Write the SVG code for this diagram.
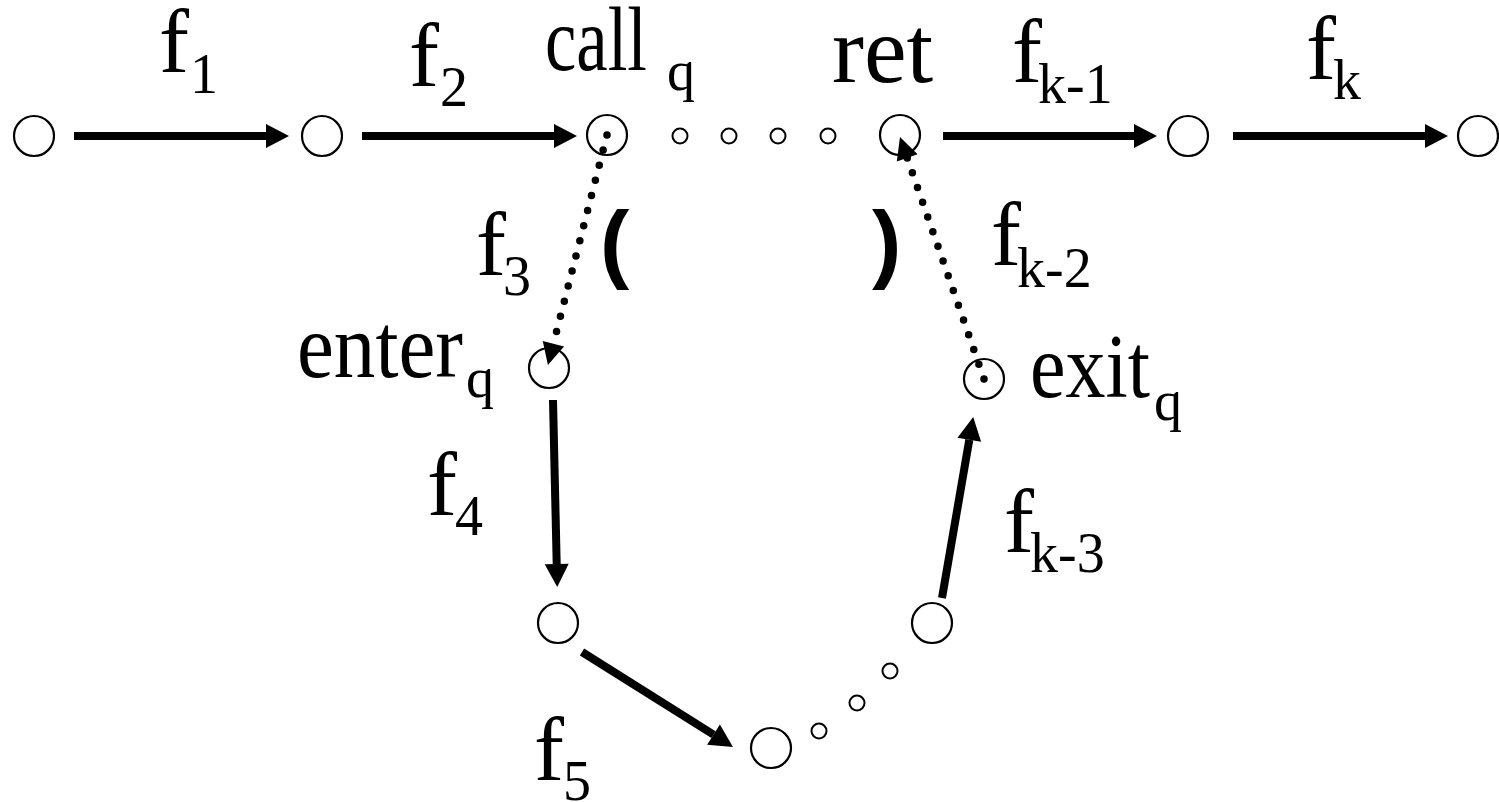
<svg xmlns="http://www.w3.org/2000/svg" width="1499" height="802" viewBox="0 0 1499 802">
<style>
.n{fill:#fff;stroke:#000;stroke-width:2.2}
.s{fill:#fff;stroke:#000;stroke-width:2}
.t{font-family:"Liberation Serif","Times New Roman",serif;font-size:90px;fill:#000}
.sub{font-size:56px}
.p{font-family:"Liberation Sans",Arial,sans-serif;font-weight:bold;font-size:88px;fill:#000}
.a{fill:none;stroke:#000;stroke-width:8;marker-end:url(#ah)}
.d{fill:none;stroke:#000;stroke-width:7.5;stroke-linecap:round;stroke-dasharray:0 15.6;marker-end:url(#dh)}
</style>
<defs>
<marker id="ah" markerUnits="userSpaceOnUse" viewBox="0 -13 24 26" refX="0" refY="0" markerWidth="24" markerHeight="26" orient="auto" overflow="visible">
<polygon points="0,-12 23,0 0,12" fill="#000"/>
</marker>
<marker id="dh" markerUnits="userSpaceOnUse" viewBox="0 -12 23 24" refX="0" refY="0" markerWidth="23" markerHeight="24" orient="auto" overflow="visible">
<polygon points="0,-11 22,0 0,11" fill="#000"/>
</marker>
</defs>

<g id="node-1"><circle class="n" cx="34" cy="136" r="20"/></g>
<g id="node-2"><circle class="n" cx="322" cy="136" r="20"/></g>
<g id="node-call"><circle class="n" cx="607" cy="135" r="20"/></g>
<g id="node-ret"><circle class="n" cx="900" cy="135" r="20"/></g>
<g id="node-k1"><circle class="n" cx="1188" cy="136" r="20"/></g>
<g id="node-k"><circle class="n" cx="1478" cy="136" r="20"/></g>
<g id="node-enter"><circle class="n" cx="549" cy="368" r="20"/></g>
<g id="node-exit"><circle class="n" cx="984" cy="379" r="20"/></g>
<g id="node-5"><circle class="n" cx="558" cy="623" r="20"/></g>
<g id="node-6"><circle class="n" cx="771" cy="748" r="20"/></g>
<g id="node-k3"><circle class="n" cx="932" cy="623" r="20"/></g>

<g id="ellipsis-top">
<circle class="s" cx="680" cy="136" r="7.5"/>
<circle class="s" cx="729" cy="136" r="7.5"/>
<circle class="s" cx="778" cy="136" r="7.5"/>
<circle class="s" cx="828" cy="136" r="7.5"/>
</g>
<g id="ellipsis-bottom">
<circle class="s" cx="819" cy="731" r="7.5"/>
<circle class="s" cx="857" cy="703" r="7.5"/>
<circle class="s" cx="890" cy="671" r="7.5"/>
</g>

<g id="connectors">
<path class="a" d="M74,136 H266"/>
<path class="a" d="M362,136 H554"/>
<path class="a" d="M943,136 H1134"/>
<path class="a" d="M1233,136 H1425"/>
<path class="a" d="M553,400 L556.7,564"/>
<path class="a" d="M582,652 L713.5,734.7"/>
<path class="a" d="M942,598 L969.3,439.7"/>
<path class="d" d="M607,135 L553.4,343.7"/>
<path class="d" d="M984,379 L907.2,157.8"/>
</g>

<g id="labels">
<text class="t" x="159" y="72">f<tspan class="sub" x="190" y="93">1</tspan></text>
<text class="t" x="409" y="86">f<tspan class="sub" x="440" y="106">2</tspan></text>
<text class="t" x="545" y="70"><tspan textLength="102" lengthAdjust="spacingAndGlyphs">call</tspan><tspan class="sub" x="667" y="90">q</tspan></text>
<text class="t" x="832" y="82" style="font-size:96px">ret</text>
<text class="t" x="1012" y="82">f<tspan class="sub" x="1038" y="103">k-1</tspan></text>
<text class="t" x="1306" y="79">f<tspan class="sub" x="1333" y="99">k</tspan></text>
<text class="t" x="476" y="275">f<tspan class="sub" x="503" y="295">3</tspan></text>
<text class="p" x="600" y="272">(</text>
<text class="p" x="872" y="272">)</text>
<text class="t" x="297" y="377"><tspan textLength="166" lengthAdjust="spacingAndGlyphs">enter</tspan><tspan class="sub" x="466" y="397">q</tspan></text>
<text class="t" x="991" y="265">f<tspan class="sub" x="1017" y="287">k-2</tspan></text>
<text class="t" x="1030" y="397"><tspan textLength="120" lengthAdjust="spacingAndGlyphs">exit</tspan><tspan class="sub" x="1154" y="420">q</tspan></text>
<text class="t" x="427" y="515">f<tspan class="sub" x="455" y="535">4</tspan></text>
<text class="t" x="1004" y="552">f<tspan class="sub" x="1030" y="572">k-3</tspan></text>
<text class="t" x="534" y="780">f<tspan class="sub" x="563" y="800">5</tspan></text>
</g>
</svg>
